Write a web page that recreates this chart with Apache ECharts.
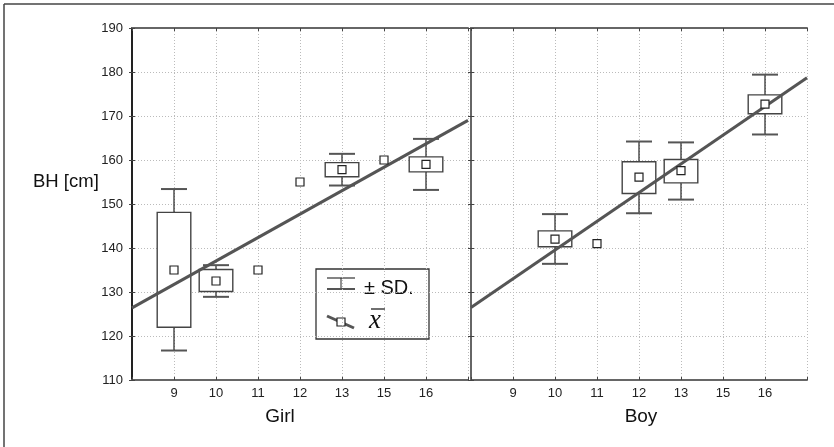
<!DOCTYPE html>
<html>
<head>
<meta charset="utf-8">
<script src="https://cdn.jsdelivr.net/npm/echarts@6/dist/echarts.min.js"></script>
<style>html,body{margin:0;padding:0;background:#fff;}#c{width:834px;height:447px;}</style>
</head>
<body>
<div id="c"></div>
<script>
// ---- data ----
var categories = ['9', '10', '11', '12', '13', '15', '16'];
var yTicks = [110, 120, 130, 140, 150, 160, 170, 180, 190];

var girlMean   = [135,   132.5, 135,  155,  157.8, 160,  159];
var girlSeLow  = [122,   130.1, null, null, 156.2, null, 157.3];
var girlSeHigh = [148.1, 135.1, null, null, 159.4, null, 160.7];
var girlSdLow  = [116.7, 128.9, null, null, 154.2, null, 153.2];
var girlSdHigh = [153.4, 136.1, null, null, 161.4, null, 164.8];
var girlFit    = [126.4, 169.0]; // regression values at left and right axis ends

var boyMean   = [null, 142,   141,  156.1, 157.6, null, 172.7];
var boySeLow  = [null, 140.3, null, 152.4, 154.8, null, 170.5];
var boySeHigh = [null, 143.9, null, 159.6, 160.1, null, 174.8];
var boySdLow  = [null, 136.4, null, 147.9, 151.0, null, 165.8];
var boySdHigh = [null, 147.7, null, 164.2, 164.0, null, 179.4];
var boyFit    = [126.5, 178.7];

// ---- build ----
var FONT = 'Liberation Sans, Arial, sans-serif';
var nSlots = categories.length + 1;

function boxData(seL, seH, sdL, sdH) {
  var out = [];
  for (var i = 0; i < categories.length; i++) {
    if (seL[i] != null) out.push([i + 1, seL[i], seH[i], sdL[i], sdH[i]]);
  }
  return out;
}
function meanData(m) {
  var out = [];
  for (var i = 0; i < categories.length; i++) if (m[i] != null) out.push([i + 1, m[i]]);
  return out;
}
function renderBox(params, api) {
  var x = api.value(0);
  var bLo = api.coord([x, api.value(1)]);
  var bHi = api.coord([x, api.value(2)]);
  var wLo = api.coord([x, api.value(3)]);
  var wHi = api.coord([x, api.value(4)]);
  var slot = api.size([1, 0])[0];
  var bw = slot * 0.8, cw = slot * 0.62;
  var cx = bLo[0];
  return {
    type: 'group',
    children: [
      {type: 'line', shape: {x1: cx, y1: bHi[1], x2: cx, y2: wHi[1]}, style: {stroke: '#222', lineWidth: 1.2}},
      {type: 'line', shape: {x1: cx, y1: bLo[1], x2: cx, y2: wLo[1]}, style: {stroke: '#222', lineWidth: 1.2}},
      {type: 'line', shape: {x1: cx - cw / 2, y1: wHi[1], x2: cx + cw / 2, y2: wHi[1]}, style: {stroke: '#555', lineWidth: 2}},
      {type: 'line', shape: {x1: cx - cw / 2, y1: wLo[1], x2: cx + cw / 2, y2: wLo[1]}, style: {stroke: '#555', lineWidth: 2}},
      {type: 'rect', shape: {x: cx - bw / 2, y: bHi[1], width: bw, height: bLo[1] - bHi[1]}, style: {fill: '#fff', stroke: '#444', lineWidth: 1.4}}
    ]
  };
}

function xAxes(gi) {
  return [
    {gridIndex: gi, type: 'value', min: 0, max: nSlots, interval: 1, position: 'bottom',
     axisLine: {show: true, lineStyle: {color: '#666', width: 2}},
     axisTick: {show: true, inside: true, length: 3, lineStyle: {color: '#444'}},
     axisLabel: {show: true, margin: 7, fontSize: 13, color: '#222', fontFamily: FONT,
       formatter: function (v) { return categories[v - 1] || ''; }},
     splitLine: {show: true, lineStyle: {type: [1, 2], color: '#bbb', width: 1}}},
    {gridIndex: gi, type: 'value', min: 0, max: nSlots, interval: 1, position: 'top',
     axisLine: {show: true, lineStyle: {color: '#666', width: 2}},
     axisTick: {show: true, inside: true, length: 3, lineStyle: {color: '#444'}},
     axisLabel: {show: false}, splitLine: {show: false}}
  ];
}
function yAxes(gi, labels, leftColor, rightColor) {
  return [
    {gridIndex: gi, type: 'value', min: yTicks[0], max: yTicks[yTicks.length - 1], interval: 10, position: 'left',
     axisLine: {show: true, lineStyle: {color: leftColor, width: 1.5}},
     axisTick: {show: true, inside: true, length: 3, lineStyle: {color: '#444'}},
     axisLabel: {show: labels, margin: 9, fontSize: 13, color: '#222', fontFamily: FONT},
     splitLine: {show: true, lineStyle: {type: [1, 2], color: '#bbb', width: 1}}},
    {gridIndex: gi, type: 'value', min: yTicks[0], max: yTicks[yTicks.length - 1], interval: 10, position: 'right',
     axisLine: {show: true, lineStyle: {color: rightColor, width: 2}},
     axisTick: {show: true, inside: true, length: 3, lineStyle: {color: '#444'}},
     axisLabel: {show: false}, splitLine: {show: false}}
  ];
}

function panelSeries(xi, yi, seL, seH, sdL, sdH, mean, fit) {
  return [
    {type: 'custom', xAxisIndex: xi, yAxisIndex: yi, renderItem: renderBox,
     data: boxData(seL, seH, sdL, sdH), z: 2, silent: true},
    {type: 'line', xAxisIndex: xi, yAxisIndex: yi, data: [[0, fit[0]], [nSlots, fit[1]]],
     showSymbol: false, symbol: 'none', lineStyle: {color: '#555', width: 3}, z: 3, silent: true},
    {type: 'scatter', xAxisIndex: xi, yAxisIndex: yi, data: meanData(mean), symbol: 'rect', symbolSize: 8,
     itemStyle: {color: '#fff', borderColor: '#222', borderWidth: 1.2, opacity: 1}, z: 4, silent: true}
  ];
}

var chart = echarts.init(document.getElementById('c'), null, {renderer: 'canvas'});
chart.setOption({
  animation: false,
  backgroundColor: '#fff',
  textStyle: {fontFamily: FONT},
  grid: [
    {left: 132, right: 834 - 468, top: 28, bottom: 447 - 380},
    {left: 471, right: 834 - 807, top: 28, bottom: 447 - 380}
  ],
  xAxis: xAxes(0).concat(xAxes(1)),
  yAxis: yAxes(0, true, '#111', '#222').concat(yAxes(1, false, '#222', '#666')),
  series: panelSeries(0, 0, girlSeLow, girlSeHigh, girlSdLow, girlSdHigh, girlMean, girlFit)
    .concat(panelSeries(2, 2, boySeLow, boySeHigh, boySdLow, boySdHigh, boyMean, boyFit)),
  graphic: [
    {type: 'line', shape: {x1: 4, y1: 4, x2: 834, y2: 4}, style: {stroke: '#444', lineWidth: 1.5}, z: 10},
    {type: 'line', shape: {x1: 4, y1: 4, x2: 4, y2: 447}, style: {stroke: '#444', lineWidth: 1.5}, z: 10},
    {type: 'text', x: 33, y: 182, style: {text: 'BH [cm]', font: '18.5px ' + FONT, fill: '#111', verticalAlign: 'middle', align: 'left'}, z: 10},
    {type: 'text', x: 280, y: 417, style: {text: 'Girl', font: '19px ' + FONT, fill: '#111', verticalAlign: 'middle', align: 'center'}, z: 10},
    {type: 'text', x: 641, y: 417, style: {text: 'Boy', font: '19px ' + FONT, fill: '#111', verticalAlign: 'middle', align: 'center'}, z: 10},
    // legend
    {type: 'group', z: 20, children: [
      {type: 'rect', shape: {x: 316, y: 269, width: 113, height: 70}, style: {fill: '#fff', stroke: '#333', lineWidth: 1.3}},
      {type: 'line', shape: {x1: 327, y1: 278, x2: 355, y2: 278}, style: {stroke: '#333', lineWidth: 1.2}},
      {type: 'line', shape: {x1: 341, y1: 278, x2: 341, y2: 289}, style: {stroke: '#222', lineWidth: 1}},
      {type: 'line', shape: {x1: 327, y1: 289, x2: 355, y2: 289}, style: {stroke: '#555', lineWidth: 2}},
      {type: 'text', x: 364, y: 288, style: {text: '± SD.', font: '20px ' + FONT, fill: '#111', verticalAlign: 'middle'}},
      {type: 'line', shape: {x1: 327, y1: 316, x2: 354, y2: 328}, style: {stroke: '#555', lineWidth: 3}},
      {type: 'rect', shape: {x: 337, y: 318, width: 8, height: 8}, style: {fill: '#fff', stroke: '#222', lineWidth: 1.2}},
      {type: 'text', x: 369, y: 321, style: {text: 'x', font: 'italic 27px Liberation Serif, DejaVu Serif, serif', fill: '#111', verticalAlign: 'middle'}},
      {type: 'line', shape: {x1: 371, y1: 309, x2: 385, y2: 309}, style: {stroke: '#111', lineWidth: 1.2}}
    ]}
  ]
});
</script>
</body>
</html>
